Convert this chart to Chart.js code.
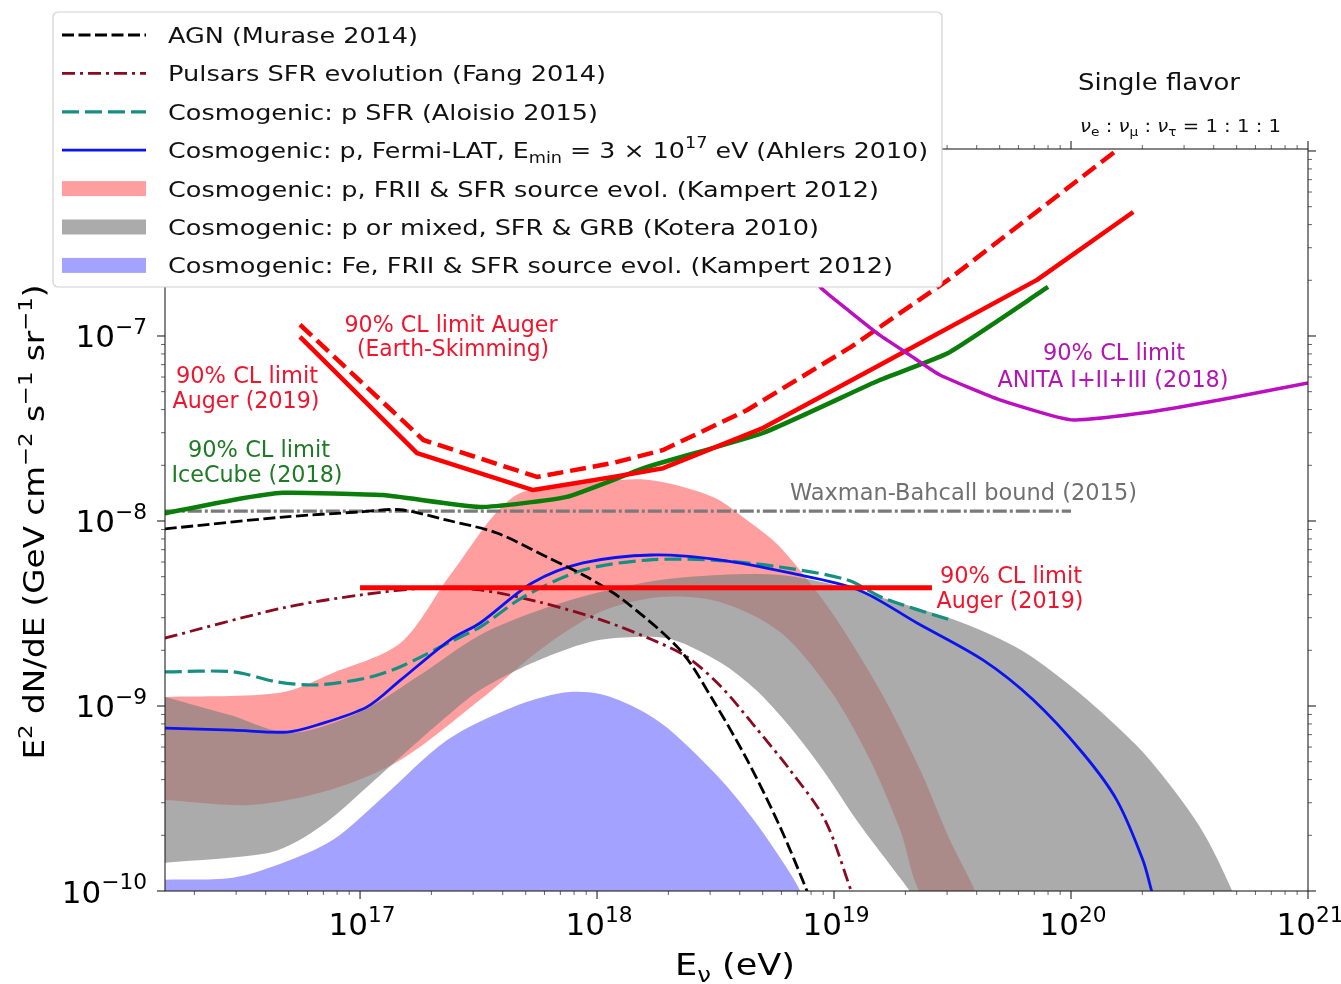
<!DOCTYPE html>
<html><head><meta charset="utf-8">
<script src="https://cdn.jsdelivr.net/npm/chart.js@4/dist/chart.umd.min.js"></script>
<style>html,body{margin:0;padding:0;background:#fff;overflow:hidden}canvas{display:block}</style>
</head><body>
<canvas id="c" width="1341" height="984"></canvas>
<script>
const FAM = '"DejaVu Sans", "Noto Sans", sans-serif';

// ---------------- data: E in eV, flux E^2 dN/dE in GeV cm^-2 s^-1 sr^-1 ----------------
const agnE = [1.50e16, 4.73e16, 1.00e17, 1.48e17, 2.33e17, 3.78e17, 6.15e17, 9.08e17, 1.29e18, 2.24e18, 3.08e18, 4.30e18, 5.92e18, 7.69e18, 8.5e18];
const agnF = [9.06e-9, 1.05e-8, 1.12e-8, 1.15e-8, 1.01e-8, 8.61e-9, 6.38e-9, 4.98e-9, 3.74e-9, 2.01e-9, 1.08e-9, 5.11e-10, 2.22e-10, 1.00e-10, 7.0e-11];

const pulE = [1.50e16, 4.73e16, 1.00e17, 1.97e17, 3.21e17, 5.69e17, 1.04e18, 1.71e18, 2.40e18, 3.34e18, 4.69e18, 6.52e18, 9.16e18, 1.19e19];
const pulF = [2.33e-9, 3.39e-9, 3.98e-9, 4.35e-9, 4.24e-9, 3.65e-9, 2.92e-9, 2.28e-9, 1.84e-9, 1.27e-9, 7.60e-10, 4.51e-10, 2.42e-10, 9.75e-11];

const aloE = [1.50e16, 2.91e16, 4.47e16, 6.59e16, 1.07e17, 1.48e17, 2.40e17, 3.21e17, 4.88e17, 8.73e17, 1.63e18, 3.08e18, 5.92e18, 1.14e19, 1.61e19, 3.08e19];
const aloF = [1.53e-9, 1.53e-9, 1.35e-9, 1.30e-9, 1.42e-9, 1.63e-9, 2.22e-9, 2.67e-9, 3.88e-9, 5.43e-9, 6.15e-9, 6.15e-9, 5.64e-9, 4.80e-9, 3.84e-9, 2.92e-9];

const ahlE = [1.50e16, 2.91e16, 4.92e16, 6.59e16, 1.07e17, 1.48e17, 2.40e17, 3.21e17, 5.32e17, 8.73e17, 1.71e18, 3.34e18, 6.52e18, 1.27e19, 2.24e19, 4.26e19, 6.92e19, 1.12e20, 1.56e20, 2.01e20, 2.20e20];
const ahlF = [7.60e-10, 7.41e-10, 7.23e-10, 7.89e-10, 9.89e-10, 1.38e-9, 2.28e-9, 2.81e-9, 4.62e-9, 5.93e-9, 6.55e-9, 6.15e-9, 5.24e-9, 4.24e-9, 2.81e-9, 1.77e-9, 1.08e-9, 5.57e-10, 3.10e-10, 1.47e-10, 9.75e-11];

const kpUpE = [1.50e16, 4.59e16, 7.69e16, 1.48e17, 2.40e17, 4.43e17, 8.47e17, 1.63e18, 3.08e18, 4.30e18, 5.92e18, 9.62e18, 1.56e19, 2.31e19, 3.08e19, 3.94e19, 4.55e19];
const kpUpF = [1.12e-9, 1.18e-9, 1.51e-9, 2.19e-9, 5.11e-9, 1.35e-8, 1.58e-8, 1.67e-8, 1.35e-8, 1.01e-8, 7.23e-9, 3.30e-9, 1.22e-9, 4.51e-10, 1.89e-10, 1.00e-10, 6.15e-11];
const kpLoE = [1.50e16, 3.44e16, 7.46e16, 1.48e17, 3.21e17, 5.74e17, 1.03e18, 1.85e18, 3.30e18, 5.92e18, 9.62e18, 1.42e19, 1.90e19, 2.42e19];
const kpLoF = [3.10e-10, 2.92e-10, 3.52e-10, 5.11e-10, 1.08e-9, 2.01e-9, 3.22e-9, 3.88e-9, 3.65e-9, 2.51e-9, 1.22e-9, 5.11e-10, 2.14e-10, 8.94e-11];

const koUpE = [1.50e16, 2.83e16, 5.07e16, 1.00e17, 1.79e17, 3.21e17, 5.74e17, 1.03e18, 1.85e18, 3.30e18, 5.92e18, 1.06e19, 1.90e19, 3.50e19, 6.15e19, 9.62e19, 1.46e20, 2.15e20, 3.50e20, 4.83e20, 5.42e20];
const koUpF = [1.12e-9, 8.93e-10, 7.15e-10, 9.29e-10, 1.47e-9, 2.42e-9, 3.30e-9, 4.13e-9, 4.80e-9, 5.11e-9, 5.11e-9, 4.45e-9, 3.60e-9, 2.81e-9, 2.01e-9, 1.33e-9, 8.39e-10, 5.11e-10, 2.22e-10, 9.75e-11, 6.15e-11];
const koLoE = [1.50e16, 4.06e16, 5.58e16, 7.69e16, 1.07e17, 1.48e17, 2.18e17, 3.21e17, 5.32e17, 9.33e17, 1.45e18, 2.09e18, 3.34e18, 4.69e18, 6.52e18, 9.16e18, 1.27e19, 1.79e19, 2.11e19, 2.26e19];
const koLoF = [1.42e-10, 1.60e-10, 1.89e-10, 2.51e-10, 3.65e-10, 5.30e-10, 8.20e-10, 1.22e-9, 1.71e-9, 2.22e-9, 2.36e-9, 2.28e-9, 1.71e-9, 1.22e-9, 7.69e-10, 4.35e-10, 2.33e-10, 1.30e-10, 9.75e-11, 7.9e-11];

const feE = [1.50e16, 2.91e16, 4.73e16, 7.69e16, 1.25e17, 2.33e17, 4.43e17, 7.19e17, 1.03e18, 1.52e18, 2.03e18, 3.34e18, 4.69e18, 6.52e18, 7.26e18, 7.76e18];
const feF = [1.15e-10, 1.18e-10, 1.42e-10, 1.89e-10, 3.22e-10, 6.55e-10, 9.89e-10, 1.18e-9, 1.16e-9, 9.51e-10, 7.41e-10, 3.98e-10, 2.33e-10, 1.25e-10, 9.75e-11, 7.4e-11];

const augerE = [5.58e16, 1.74e17, 5.37e17, 1.17e18, 1.90e18, 5.01e18, 1.56e19, 7.19e19, 1.83e20];
const augerF = [9.89e-8, 2.33e-8, 1.47e-8, 1.73e-8, 1.93e-8, 3.18e-8, 6.97e-8, 2.01e-7, 4.68e-7];

const augerEsE = [5.58e16, 1.85e17, 5.58e17, 1.17e18, 1.90e18, 4.30e18, 1.18e19, 3.03e19, 1.56e20];
const augerEsF = [1.15e-7, 2.74e-8, 1.73e-8, 2.06e-8, 2.42e-8, 3.98e-8, 8.73e-8, 2.01e-7, 1.01e-6];

const iceE = [1.50e16, 2.91e16, 4.73e16, 1.25e17, 3.21e17, 7.46e17, 1.63e18, 5.01e18, 1.56e19, 3.03e19, 8.00e19];
const iceF = [1.10e-8, 1.30e-8, 1.42e-8, 1.38e-8, 1.19e-8, 1.35e-8, 1.96e-8, 2.99e-8, 5.78e-8, 8.09e-8, 1.84e-7];

const anitaE = [6.52e18, 8.73e18, 1.17e19, 1.56e19, 2.09e19, 2.80e19, 5.01e19, 1.00e20, 2.15e20, 4.69e20, 1.00e21];
const anitaF = [3.30e-7, 1.84e-7, 1.35e-7, 1.01e-7, 7.88e-8, 6.15e-8, 4.51e-8, 3.52e-8, 3.88e-8, 4.62e-8, 5.57e-8];

const wbE = [1.50e16, 1.00e20];
const wbF = [1.13e-8, 1.13e-8];

const augerIntE = [1.00e17, 2.59e19];
const augerIntF = [4.35e-9, 4.35e-9];

const xTickExps = [17, 18, 19, 20, 21];
const yTickExps = [-10, -9, -8, -7];

const legendLabels = [
  [{t:'AGN (Murase 2014)'}],
  [{t:'Pulsars SFR evolution (Fang 2014)'}],
  [{t:'Cosmogenic: p SFR (Aloisio 2015)'}],
  [{t:'Cosmogenic: p, Fermi-LAT, E'},{t:'min',m:'sub'},{t:' = 3 × 10'},{t:'17',m:'sup'},{t:' eV (Ahlers 2010)'}],
  [{t:'Cosmogenic: p, FRII & SFR source evol. (Kampert 2012)'}],
  [{t:'Cosmogenic: p or mixed, SFR & GRB (Kotera 2010)'}],
  [{t:'Cosmogenic: Fe, FRII & SFR source evol. (Kampert 2012)'}]
];

// ---------------- helpers ----------------
const pts = (E, F) => E.map((e, i) => ({x: e, y: F[i]}));
const shape = (uE, uF, lE, lF) => pts(uE, uF).concat(pts(lE, lF).reverse());

function segFont(s, size) {
  const sz = (s.m === 'sup' || s.m === 'sub') ? size * 0.7 : size;
  return (s.i ? 'italic ' : '') + sz.toFixed(2) + 'px ' + FAM;
}
function richWidth(ctx, segs, size) {
  let w = 0;
  for (const s of segs) { ctx.font = segFont(s, size); w += ctx.measureText(s.t).width; }
  return w;
}
function drawRich(ctx, segs, x, y, o) {
  const size = o.size;
  const nat = richWidth(ctx, segs, size);
  const sx = o.width ? o.width / nat : 1;
  const total = nat * sx;
  ctx.save();
  ctx.translate(x, y);
  if (o.rot) ctx.rotate(o.rot);
  const start = o.align === 'center' ? -total / 2 : (o.align === 'right' ? -total : 0);
  ctx.translate(start, 0);
  ctx.scale(sx, 1);
  ctx.fillStyle = o.color || '#000';
  ctx.textBaseline = 'alphabetic';
  ctx.textAlign = 'left';
  let cx = 0;
  for (const s of segs) {
    ctx.font = segFont(s, size);
    const dy = s.m === 'sup' ? -size * (o.supRise || 0.4) : (s.m === 'sub' ? size * 0.22 : 0);
    ctx.fillText(s.t, cx, dy);
    cx += ctx.measureText(s.t).width;
  }
  ctx.restore();
}

// ---------------- datasets ----------------
const base = {pointRadius: 0, pointHoverRadius: 0, tension: 0, fill: false};
const datasets = [
  Object.assign({}, base, {label:'Kampert p', data: shape(kpUpE, kpUpF, kpLoE, kpLoF), fill:'shape',
    backgroundColor:'rgba(255,0,0,0.38)', borderWidth:0, borderColor:'rgba(0,0,0,0)', tension:0.3, order:100, patch:true}),
  Object.assign({}, base, {label:'Kotera', data: shape(koUpE, koUpF, koLoE, koLoF), fill:'shape',
    backgroundColor:'rgba(128,128,128,0.66)', borderWidth:0, borderColor:'rgba(0,0,0,0)', tension:0.3, order:99, patch:true}),
  Object.assign({}, base, {label:'Fe', data: pts(feE, feF), fill:'start',
    backgroundColor:'rgba(0,0,255,0.36)', borderWidth:0, borderColor:'rgba(0,0,0,0)', tension:0.3, order:98, patch:true}),
  Object.assign({}, base, {label:'WB', data: pts(wbE, wbF), borderColor:'#7a7a7a', borderWidth:3.2, borderDash:[14,3,3,3], order:60}),
  Object.assign({}, base, {label:'Pulsars', data: pts(pulE, pulF), borderColor:'#8a0a22', borderWidth:2.8, borderDash:[13,5,3,5], tension:0.3, order:50}),
  Object.assign({}, base, {label:'Aloisio', data: pts(aloE, aloF), borderColor:'#168f82', borderWidth:3.2, borderDash:[17,6], tension:0.3, order:49}),
  Object.assign({}, base, {label:'Ahlers', data: pts(ahlE, ahlF), borderColor:'#0a14f0', borderWidth:2.8, tension:0.3, order:48}),
  Object.assign({}, base, {label:'AGN', data: pts(agnE, agnF), borderColor:'#000000', borderWidth:2.8, borderDash:[12,4.5], tension:0.3, order:47}),
  Object.assign({}, base, {label:'AugerInt', data: pts(augerIntE, augerIntF), borderColor:'#ff0000', borderWidth:5, order:40}),
  Object.assign({}, base, {label:'IceCube', data: pts(iceE, iceF), borderColor:'#0a7d0a', borderWidth:4.5, tension:0.15, order:30}),
  Object.assign({}, base, {label:'Auger', data: pts(augerE, augerF), borderColor:'#ff0000', borderWidth:4.5, order:29}),
  Object.assign({}, base, {label:'AugerES', data: pts(augerEsE, augerEsF), borderColor:'#ff0000', borderWidth:4.5, borderDash:[16,7], order:28}),
  Object.assign({}, base, {label:'ANITA', data: pts(anitaE, anitaF), borderColor:'#bb10c0', borderWidth:3.5, tension:0.15, order:27})
];
const legendDs = ['AGN', 'Pulsars', 'Aloisio', 'Ahlers', 'Kampert p', 'Kotera', 'Fe'];
const legendWidths = [250, 438, 430, 760, 711, 651, 725];

// ---------------- plugins ----------------
const bg = {id:'bg', beforeDraw(c){ const x=c.ctx; x.save(); x.fillStyle='#fff'; x.fillRect(0,0,c.width,c.height); x.restore(); }};

const overlay = {id:'overlay', afterDraw(c) {
  const ctx = c.ctx, xs = c.scales.x, ys = c.scales.y, a = c.chartArea;
  ctx.save();
  // spines
  ctx.strokeStyle = '#222'; ctx.lineWidth = 1.1; ctx.setLineDash([]);
  ctx.strokeRect(a.left, a.top, a.right - a.left, a.bottom - a.top);
  // ticks
  const tick = (x1, y1, x2, y2, w) => { ctx.lineWidth = w; ctx.beginPath(); ctx.moveTo(x1, y1); ctx.lineTo(x2, y2); ctx.stroke(); };
  for (let d = 16; d <= 21; d++) {
    for (let k = 1; k <= 9; k++) {
      const v = k * Math.pow(10, d);
      if (v < xs.min * 0.999 || v > xs.max * 1.001) continue;
      const px = xs.getPixelForValue(v), L = k === 1 ? 8 : 4, w = k === 1 ? 1.1 : 0.7;
      tick(px, a.bottom, px, a.bottom + L, w);
      tick(px, a.top, px, a.top - L, w);
    }
  }
  for (let d = -11; d <= -6; d++) {
    for (let k = 1; k <= 9; k++) {
      const v = k * Math.pow(10, d);
      if (v < ys.min * 0.999 || v > ys.max * 1.001) continue;
      const py = ys.getPixelForValue(v), L = k === 1 ? 8 : 4, w = k === 1 ? 1.1 : 0.7;
      tick(a.left, py, a.left - L, py, w);
      tick(a.right, py, a.right + L, py, w);
    }
  }
  // tick labels
  for (const e of xTickExps) {
    const px = xs.getPixelForValue(Math.pow(10, e));
    drawRich(ctx, [{t:'10'},{t:String(e),m:'sup'}], px + 2, 935, {size:31, align:'center', supRise:0.42});
  }
  for (const e of yTickExps) {
    const py = ys.getPixelForValue(Math.pow(10, e));
    drawRich(ctx, [{t:'10'},{t:'−' + String(-e),m:'sup'}], 147, py + 11.5, {size:31, align:'right', supRise:0.42});
  }
  // axis titles
  drawRich(ctx, [{t:'E'},{t:'ν',m:'sub'},{t:' (eV)'}], 675, 975, {size:30, width:120});
  drawRich(ctx, [{t:'E'},{t:'2',m:'sup'},{t:' dN/dE (GeV cm'},{t:'−2',m:'sup'},{t:' s'},{t:'−1',m:'sup'},{t:' sr'},{t:'−1',m:'sup'},{t:')'}],
    44, 522, {size:29, width:475, align:'center', rot:-Math.PI / 2});
  // annotations
  const red = '#f0142d', grn = '#1d7a25', mag = '#b414b4', gry = '#707070';
  const ann = [
    ['90% CL limit Auger', 451, 332, 213, red], ['(Earth-Skimming)', 453, 356, 192, red],
    ['90% CL limit', 247, 383, 142, red], ['Auger (2019)', 246, 408, 147, red],
    ['90% CL limit', 259, 457, 142, grn], ['IceCube (2018)', 257, 482, 171, grn],
    ['90% CL limit', 1011, 583, 142, red], ['Auger (2019)', 1010, 608, 147, red],
    ['90% CL limit', 1114, 360, 142, mag], ['ANITA I+II+III (2018)', 1113, 387, 231, mag]
  ];
  for (const [t, x, y, w, col] of ann) drawRich(ctx, [{t}], x, y, {size:22.5, width:w, align:'center', color:col});
  drawRich(ctx, [{t:'Waxman-Bahcall bound (2015)'}], 790, 500, {size:22.5, width:347, color:gry});
  // single flavor
  drawRich(ctx, [{t:'Single flavor'}], 1078, 90, {size:22.5, width:162, color:'#111'});
  drawRich(ctx, [{t:'ν',i:true},{t:'e',m:'sub'},{t:' : '},{t:'ν',i:true},{t:'μ',m:'sub'},{t:' : '},{t:'ν',i:true},{t:'τ',m:'sub'},{t:' = 1 : 1 : 1'}],
    1080, 132, {size:18, width:201, color:'#111'});
  // legend
  ctx.setLineDash([]);
  ctx.fillStyle = '#fff'; ctx.strokeStyle = '#d0d0d0'; ctx.lineWidth = 1.2;
  ctx.beginPath(); ctx.roundRect(53, 12, 889, 275, 5); ctx.fill(); ctx.stroke();
  legendDs.forEach((name, i) => {
    const ds = c.data.datasets.find(d => d.label === name);
    const y = 35 + 38.4 * i;
    if (ds.patch) {
      ctx.fillStyle = ds.backgroundColor; ctx.fillRect(62, y - 7.5, 84, 15);
    } else {
      ctx.strokeStyle = ds.borderColor; ctx.lineWidth = ds.borderWidth; ctx.setLineDash(ds.borderDash || []);
      ctx.beginPath(); ctx.moveTo(62, y); ctx.lineTo(146, y); ctx.stroke(); ctx.setLineDash([]);
    }
    drawRich(ctx, legendLabels[i], 168, y + 8, {size:22, width:legendWidths[i], color:'#111', supRise:0.45});
  });
  ctx.restore();
}};

new Chart(document.getElementById('c'), {
  type: 'line',
  data: {datasets},
  options: {
    responsive: false, animation: false, devicePixelRatio: 1,
    layout: {padding: {left:165, right:33, top:149, bottom:93}},
    elements: {point: {radius:0}, line: {capBezierPoints:false, borderJoinStyle:'round'}},
    scales: {
      x: {type:'logarithmic', min:1.503e16, max:1e21, display:false},
      y: {type:'logarithmic', min:1e-10, max:1.025e-6, display:false}
    },
    plugins: {legend:{display:false}, tooltip:{enabled:false}}
  },
  plugins: [bg, overlay]
});
</script>
</body></html>
